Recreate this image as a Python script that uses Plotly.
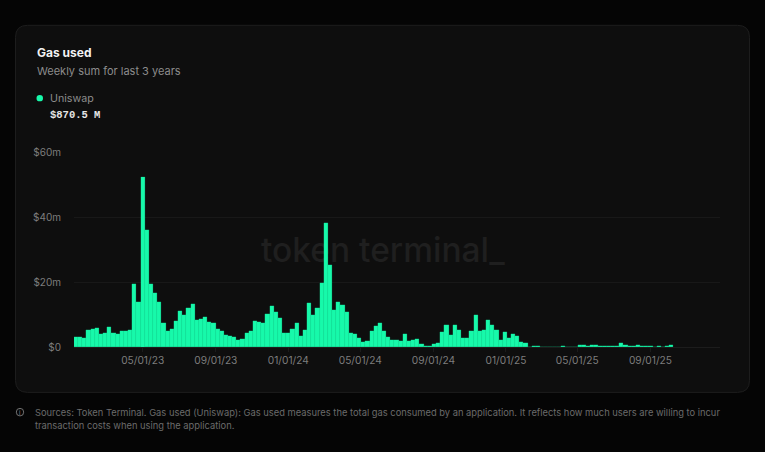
import pandas as pd
import plotly.graph_objects as go

W,H=765,452
L,R,T,B=74,720,152,347.5

# weekly gas used, $m
gas_used=[3.2,3.2,2.9,5.1,5.4,5.9,3.9,4.4,6.2,4.4,4.0,4.9,4.9,5.1,19.5,13.7,
    52.4,36.0,19.5,16.5,13.8,7.5,4.9,5.6,8.1,11.2,10.0,11.9,13.2,8.4,8.7,9.1,
    7.8,7.5,5.4,4.9,3.7,3.4,3.0,2.1,2.5,4.4,5.0,7.9,7.7,7.3,10.2,12.5,10.9,8.9,
    4.4,4.4,5.6,7.5,3.5,5.2,13.5,10.0,12.0,19.7,38.2,25.2,11.5,13.8,13.0,10.9,
    4.4,4.0,2.8,1.6,1.9,4.9,6.6,7.4,4.9,3.2,2.3,2.2,1.9,4.1,1.9,2.2,2.4,0.8,0.3,
    0.3,0.8,1.1,4.6,6.7,3.6,6.7,5.3,2.7,2.7,4.9,9.9,5.0,5.1,8.4,6.9,5.1,2.2,4.7,
    2.9,4.0,3.4,1.4,1.2,0.1,0.4,0.4,0.1,0,0,0,0,0.3,0,0,0,0.6,0.6,0.4,0.6,0.6,0.4,
    0.2,0.2,0.2,0.4,1.2,0.5,0.2,0.2,0.6,0.4,0.2,0.4,0,0.2,0,0.2,0.6]
weeks=pd.date_range('2023-01-09',periods=len(gas_used),freq='7D')
tick_dates=['2023-05-01','2023-09-01','2024-01-01','2024-05-01','2024-09-01','2025-01-01','2025-05-01','2025-09-01']
y_ticks=[0,20,40,60]
y_labels=['$0','$20m','$40m','$60m']
x_range=['2023-01-05 12:00','2025-12-27']

GREEN='#17f9aa'; GREY='#7d7d7d'
FONT='Inter'

def px(x): return (x-L)/(R-L)
def py(y): return (B-y)/(B-T)

def note(x,y,text,size,color,family=FONT,anchor='left'):
    fig.add_annotation(xref='paper',yref='paper',x=px(x),y=py(y),text=text,showarrow=False,
        xanchor=anchor,yanchor='middle',align='left',font=dict(size=size,color=color,family=family))

fig=go.Figure()
# watermark sits on the base axes so the bars overlay it
fig.add_trace(go.Scatter(x=['2024-06-08'],y=[28.6],mode='text',text=['token terminal_'],
    textfont=dict(size=33.5,color='#1f1f1f',family=FONT,weight=500),hoverinfo='skip',showlegend=False))
fig.add_trace(go.Bar(x=weeks,y=gas_used,xaxis='x2',yaxis='y2',showlegend=False,
    marker=dict(color=GREEN,line=dict(color='#14e89c',width=0.2))))

# card
x0,x1,y0,y1,r=px(15.5),px(749.5),py(25),py(393),12
rx,ry=r/(R-L),r/(B-T)
card=(f'M {x0+rx} {y0} L {x1-rx} {y0} Q {x1} {y0} {x1} {y0-ry} L {x1} {y1+ry} Q {x1} {y1} {x1-rx} {y1} '
      f'L {x0+rx} {y1} Q {x0} {y1} {x0} {y1+ry} L {x0} {y0-ry} Q {x0} {y0} {x0+rx} {y0} Z')
fig.add_shape(type='path',xref='paper',yref='paper',path=card,fillcolor='#0e0e0e',
    line=dict(color='#1d1d1d',width=1),layer='below')
# legend dot and info icon
fig.add_shape(type='circle',xref='paper',yref='paper',x0=px(36.5),x1=px(43),y0=py(94.8),y1=py(101.2),
    fillcolor=GREEN,line_width=0)
fig.add_shape(type='circle',xref='paper',yref='paper',x0=px(16.3),x1=px(23.7),y0=py(409),y1=py(416.6),
    line=dict(color='#8a8a8a',width=0.8))

note(34.5,52.5,'<b>Gas used</b>',12,'#f2f2f2')
note(34.5,71,'Weekly sum for last 3 years',11,'#8c8c8c')
note(47.5,98,'Uniswap',10.7,'#8c8c8c')
note(47.5,115,'<b>$870.5 M</b>',10.5,'#e6e6e6','Liberation Mono')
note(20,413,'i',6,'#8a8a8a',anchor='center')
note(33,413,'Sources: Token Terminal. Gas used (Uniswap): Gas used measures the total gas consumed by an application. It reflects how much users are willing to incur',9.35,'#6b6b6b')
note(33,426,'transaction costs when using the application.',9.35,'#6b6b6b')

fig.update_layout(width=W,height=H,autosize=False,margin=dict(l=L,r=W-R,t=T,b=H-B),
    paper_bgcolor='#050505',plot_bgcolor='rgba(0,0,0,0)',bargap=0,font=dict(family=FONT),
    xaxis=dict(type='date',range=x_range,tickmode='array',tickvals=tick_dates,tickformat='%m/%d/%y',
        showgrid=False,zeroline=False,ticks='outside',ticklen=4,tickcolor='#1c1c1c',
        showline=True,linecolor='#1c1c1c',tickfont=dict(size=10.2,color=GREY,family=FONT)),
    yaxis=dict(range=[0,60],tickmode='array',tickvals=y_ticks,ticktext=y_labels,gridcolor='#181818',
        zeroline=False,tickfont=dict(size=10,color=GREY,family=FONT),ticklabelstandoff=12),
    xaxis2=dict(type='date',range=x_range,overlaying='x',visible=False),
    yaxis2=dict(range=[0,60],overlaying='y',visible=False))
fig.write_html('out.html',config=dict(displayModeBar=False),
    post_script="document.body.style.margin='0';document.body.style.overflow='hidden';document.body.style.background='#050505';")
